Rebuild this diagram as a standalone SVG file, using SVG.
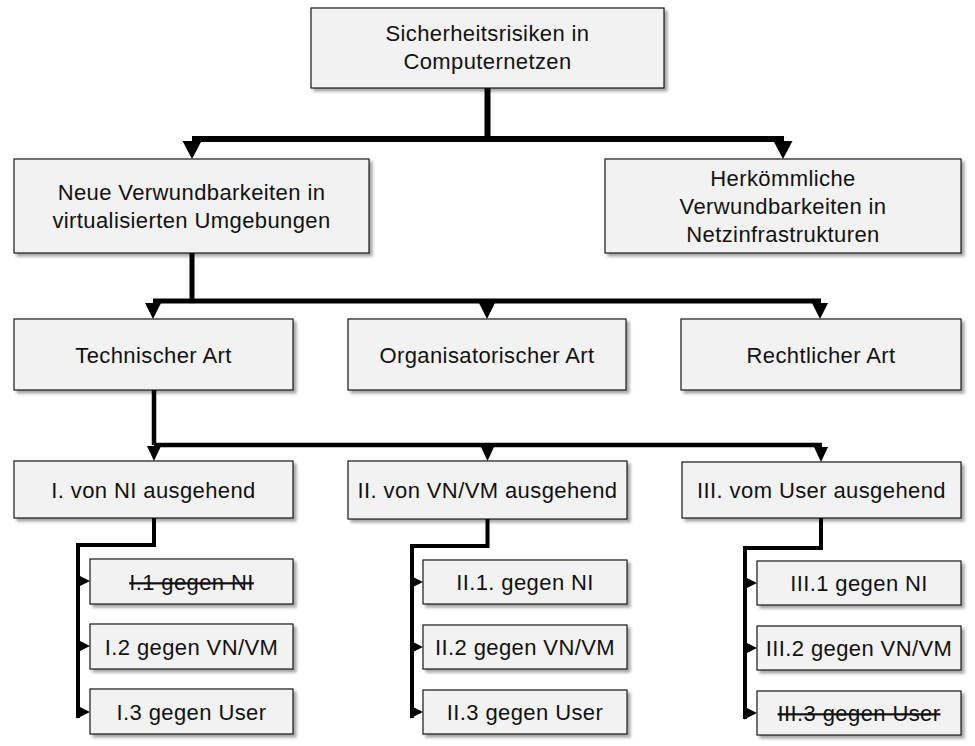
<svg xmlns="http://www.w3.org/2000/svg" xmlns:xlink="http://www.w3.org/1999/xlink" width="975" height="746" viewBox="0 0 975 746">
<style>
  .box { fill: #f2f2f2; stroke: #1a1a1a; stroke-width: 1.2; filter: url(#shadow); }
  .lbl { font-family: "Liberation Sans", Arial, Helvetica, sans-serif; font-size: 22px; letter-spacing: 0.4px; fill: #111; text-anchor: middle; }
  .strike { text-decoration: line-through; }
  .c1 { fill: none; stroke: #000; stroke-width: 6; }
  .c2 { fill: none; stroke: #000; stroke-width: 5; }
  .c3 { fill: none; stroke: #000; stroke-width: 4.5; }
  .c4 { fill: none; stroke: #000; stroke-width: 4; }
  .ah { fill: #000; }
</style>
<defs>
  <filter id="shadow" x="-10%" y="-10%" width="130%" height="140%">
    <feDropShadow dx="3" dy="3" stdDeviation="1.6" flood-color="#000" flood-opacity="0.35"/>
  </filter>
  <path id="adL" d="M0 0 L-9.5 -18 L9.5 -18 Z"/>
  <path id="adM" d="M0 0 L-8 -16 L8 -16 Z"/>
  <path id="adS" d="M0 0 L-7 -15 L7 -15 Z"/>
  <path id="ar" d="M0 0 L-13 -6.5 L-13 6.5 Z"/>
</defs>
<rect width="975" height="746" fill="#fff"/>

<g id="connectors">
  <path class="c1" d="M487.5 88 V139 M192 139 H784"/>
  <use xlink:href="#adL" class="ah" x="192" y="159"/>
  <use xlink:href="#adL" class="ah" x="783" y="159"/>

  <path class="c2" d="M192 253 V301 M153 301 H821"/>
  <use xlink:href="#adM" class="ah" x="153" y="319"/>
  <use xlink:href="#adM" class="ah" x="487" y="319"/>
  <use xlink:href="#adM" class="ah" x="820" y="319"/>

  <path class="c3" d="M154 390 V445 M154 445 H822"/>
  <use xlink:href="#adS" class="ah" x="154" y="461"/>
  <use xlink:href="#adS" class="ah" x="487.5" y="461"/>
  <use xlink:href="#adS" class="ah" x="821" y="462"/>

  <path class="c4" d="M154 518 V545 H78 V718"/>
  <use xlink:href="#ar" class="ah" x="90" y="581"/>
  <use xlink:href="#ar" class="ah" x="90" y="646"/>
  <use xlink:href="#ar" class="ah" x="90" y="712"/>

  <path class="c4" d="M487.5 519 V546 H412 V718"/>
  <use xlink:href="#ar" class="ah" x="423" y="582"/>
  <use xlink:href="#ar" class="ah" x="423" y="647"/>
  <use xlink:href="#ar" class="ah" x="423" y="712"/>

  <path class="c4" d="M821 518 V548 H745 V719"/>
  <use xlink:href="#ar" class="ah" x="757" y="583"/>
  <use xlink:href="#ar" class="ah" x="757" y="648"/>
  <use xlink:href="#ar" class="ah" x="757" y="713"/>
</g>

<g id="n-root">
  <rect class="box" x="311" y="8" width="353" height="80"/>
  <text class="lbl" x="487.5" y="41">Sicherheitsrisiken in</text>
  <text class="lbl" x="487.5" y="69">Computernetzen</text>
</g>
<g id="n-neue">
  <rect class="box" x="14" y="159" width="355" height="94"/>
  <text class="lbl" x="191.5" y="200">Neue Verwundbarkeiten in</text>
  <text class="lbl" x="191.5" y="228">virtualisierten Umgebungen</text>
</g>
<g id="n-herk">
  <rect class="box" x="605" y="159" width="356" height="94"/>
  <text class="lbl" x="783" y="186">Herkömmliche</text>
  <text class="lbl" x="783" y="214">Verwundbarkeiten in</text>
  <text class="lbl" x="783" y="242">Netzinfrastrukturen</text>
</g>

<g id="n-tech">
  <rect class="box" x="14" y="319" width="279" height="71"/>
  <text class="lbl" x="153.5" y="363">Technischer Art</text>
</g>
<g id="n-org">
  <rect class="box" x="348" y="319" width="278" height="71"/>
  <text class="lbl" x="487" y="363">Organisatorischer Art</text>
</g>
<g id="n-recht">
  <rect class="box" x="681" y="319" width="280" height="71"/>
  <text class="lbl" x="821" y="363">Rechtlicher Art</text>
</g>

<g id="n-I">
  <rect class="box" x="14" y="461" width="279" height="57"/>
  <text class="lbl" x="153.5" y="498">I. von NI ausgehend</text>
</g>
<g id="n-II">
  <rect class="box" x="348" y="461" width="279" height="58"/>
  <text class="lbl" x="487.5" y="498">II. von VN/VM ausgehend</text>
</g>
<g id="n-III">
  <rect class="box" x="682" y="462" width="279" height="56"/>
  <text class="lbl" x="821.5" y="498">III. vom User ausgehend</text>
</g>

<g id="n-I1">
  <rect class="box" x="90" y="559" width="203" height="45"/>
  <text class="lbl strike" x="191.5" y="590">I.1 gegen NI</text>
</g>
<g id="n-I2">
  <rect class="box" x="90" y="624" width="203" height="45"/>
  <text class="lbl" x="191.5" y="655">I.2 gegen VN/VM</text>
</g>
<g id="n-I3">
  <rect class="box" x="90" y="689" width="203" height="45"/>
  <text class="lbl" x="191.5" y="720">I.3 gegen User</text>
</g>

<g id="n-II1">
  <rect class="box" x="423" y="560" width="204" height="44"/>
  <text class="lbl" x="525" y="590">II.1. gegen NI</text>
</g>
<g id="n-II2">
  <rect class="box" x="423" y="625" width="204" height="44"/>
  <text class="lbl" x="525" y="655">II.2 gegen VN/VM</text>
</g>
<g id="n-II3">
  <rect class="box" x="423" y="690" width="204" height="44"/>
  <text class="lbl" x="525" y="720">II.3 gegen User</text>
</g>

<g id="n-III1">
  <rect class="box" x="757" y="561" width="204" height="44"/>
  <text class="lbl" x="859" y="591">III.1 gegen NI</text>
</g>
<g id="n-III2">
  <rect class="box" x="757" y="626" width="204" height="44"/>
  <text class="lbl" x="859" y="656">III.2 gegen VN/VM</text>
</g>
<g id="n-III3">
  <rect class="box" x="757" y="691" width="204" height="44"/>
  <text class="lbl strike" x="859" y="721">III.3 gegen User</text>
</g>
</svg>
